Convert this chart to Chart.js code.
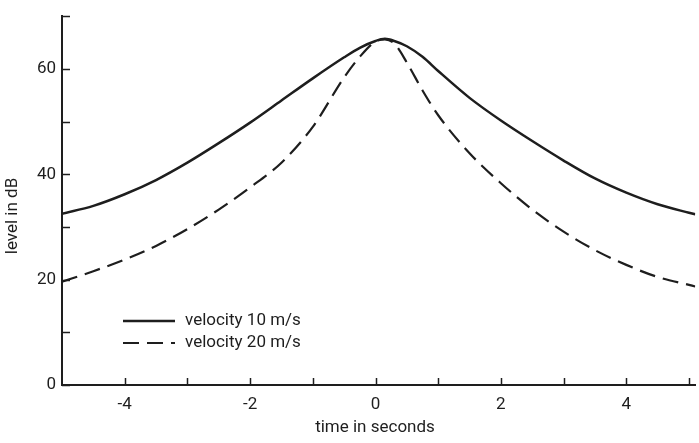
<!DOCTYPE html>
<html>
<head>
<meta charset="utf-8">
<script src="https://cdn.jsdelivr.net/npm/chart.js@4/dist/chart.umd.min.js"></script>
<style>
    html, body { margin: 0; padding: 0; background: #fff; }
    #wrap { width: 699px; height: 443px; position: relative; }
</style>
</head>
<body>
<div id="wrap"><canvas id="levelChart"></canvas></div>
<script>
// time in seconds
const times = [-5, -4.5, -4, -3.5, -3, -2.5, -2, -1.5, -1, -0.5, -0.25, 0, 0.15, 0.3, 0.5, 0.75, 1, 1.5, 2, 2.5, 3, 3.5, 4, 4.5, 5, 5.1];

// level in dB, velocity 10 m/s
const level10 = [32.5, 34.0, 36.2, 38.9, 42.2, 45.9, 49.8, 54.0, 58.2, 62.2, 64.0, 65.3, 65.7, 65.3, 64.3, 62.3, 59.6, 54.5, 50.2, 46.3, 42.6, 39.2, 36.5, 34.3, 32.7, 32.4];

// level in dB, velocity 20 m/s
const level20 = [19.6, 21.6, 23.8, 26.4, 29.6, 33.3, 37.5, 42.2, 49.0, 58.4, 62.3, 65.2, 65.6, 64.8, 61.2, 55.9, 51.2, 44.0, 38.3, 33.3, 29.1, 25.6, 22.8, 20.5, 19.0, 18.7];

const seriesLabels = ['velocity 10 m/s', 'velocity 20 m/s'];
const xLabelTicks = [-4, -2, 0, 2, 4];
const yLabelTicks = [0, 20, 40, 60];

const ink = '#1e1e1e';
const font = 'Roboto';

function toPoints(values) {
    return times.map((t, i) => ({ x: t, y: values[i] }));
}

// inward tick marks, axis titles and the small legend inside the plot
const decorations = {
    id: 'decorations',
    afterDraw(chart) {
        const c = chart.ctx;
        const xs = chart.scales.x;
        const ys = chart.scales.y;
        const area = chart.chartArea;

        c.save();
        c.strokeStyle = ink;
        c.lineWidth = 1.5;

        // x ticks point up
        xs.ticks.forEach(t => {
            const px = Math.round(xs.getPixelForValue(t.value)) + 0.5;
            c.beginPath();
            c.moveTo(px, area.bottom);
            c.lineTo(px, area.bottom - 7);
            c.stroke();
        });

        // y ticks point right
        ys.ticks.forEach(t => {
            const py = Math.round(ys.getPixelForValue(t.value)) + 0.5;
            c.beginPath();
            c.moveTo(area.left, py);
            c.lineTo(area.left + 8, py);
            c.stroke();
        });

        // axis titles
        c.fillStyle = ink;
        c.font = '17px ' + font;
        c.textAlign = 'center';
        c.textBaseline = 'middle';
        c.fillText('time in seconds', 375, 428);

        c.save();
        c.translate(13, 216);
        c.rotate(-Math.PI / 2);
        c.fillText('level in dB', 0, 0);
        c.restore();

        // legend
        c.textAlign = 'left';
        chart.data.datasets.forEach((ds, i) => {
            const y = 321 + i * 22;
            c.lineWidth = ds.borderWidth;
            c.setLineDash(ds.borderDash || []);
            c.beginPath();
            c.moveTo(123, y);
            c.lineTo(175, y);
            c.stroke();
            c.setLineDash([]);
            c.fillText(ds.label, 185, y);
        });

        c.restore();
    }
};

new Chart(document.getElementById('levelChart'), {
    type: 'line',
    data: {
        datasets: [{
            label: seriesLabels[0],
            data: toPoints(level10),
            borderColor: ink,
            borderWidth: 2.5,
            pointRadius: 0,
            cubicInterpolationMode: 'monotone',
            fill: false
        }, {
            label: seriesLabels[1],
            data: toPoints(level20),
            borderColor: ink,
            borderWidth: 2.2,
            borderDash: [16, 8],
            pointRadius: 0,
            cubicInterpolationMode: 'monotone',
            fill: false
        }]
    },
    options: {
        responsive: true,
        maintainAspectRatio: false,
        animation: false,
        layout: {
            padding: { top: 8, right: 0, left: 0, bottom: 0 }
        },
        plugins: {
            legend: { display: false },
            tooltip: { enabled: false }
        },
        scales: {
            x: {
                type: 'linear',
                min: -5,
                max: 5.1,
                afterFit: scale => { scale.height = 58; },
                afterBuildTicks: scale => {
                    scale.ticks = [-4, -3, -2, -1, 0, 1, 2, 3, 4, 5].map(v => ({ value: v }));
                },
                grid: { display: false, drawTicks: false },
                border: { display: true, color: ink, width: 2 },
                ticks: {
                    padding: 10,
                    color: ink,
                    font: { family: font, size: 17 },
                    maxRotation: 0,
                    autoSkip: false,
                    callback: v => xLabelTicks.includes(v) ? String(v) : ''
                }
            },
            y: {
                type: 'linear',
                min: 0,
                max: 70,
                afterFit: scale => { scale.width = 62; },
                afterBuildTicks: scale => {
                    scale.ticks = [0, 10, 20, 30, 40, 50, 60, 70].map(v => ({ value: v }));
                },
                grid: { display: false, drawTicks: false },
                border: { display: true, color: ink, width: 2 },
                ticks: {
                    padding: 6,
                    color: ink,
                    font: { family: font, size: 17 },
                    autoSkip: false,
                    callback: v => yLabelTicks.includes(v) ? String(v) : ''
                }
            }
        }
    },
    plugins: [decorations]
});
</script>
</body>
</html>
